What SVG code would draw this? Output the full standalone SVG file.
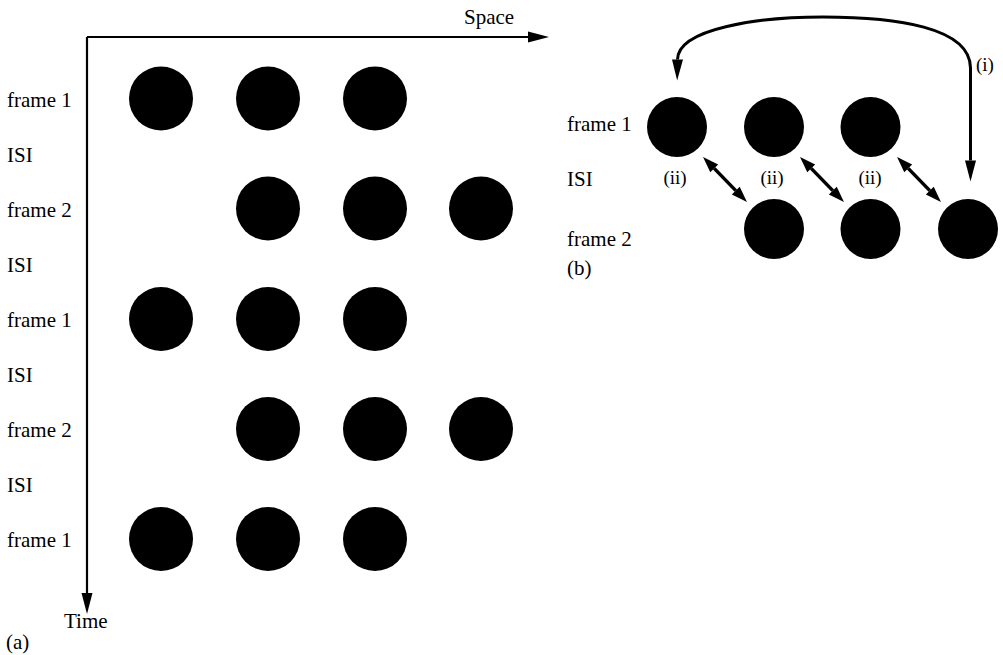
<svg xmlns="http://www.w3.org/2000/svg" width="1003" height="655" viewBox="0 0 1003 655">
<style>
  text { font-family: 'Liberation Serif', 'Times New Roman', Times, 'DejaVu Serif', serif; font-size: 21px; fill: #000; }
  .sm { font-size: 19px; }
  .dot { fill: #000; }
  .ln { fill: none; stroke: #000; }
</style>
<defs>
  <marker id="ahBig" markerUnits="userSpaceOnUse" markerWidth="22" markerHeight="12" refX="0" refY="6" orient="auto-start-reverse" overflow="visible">
    <path d="M0,0.5 L21,6 L0,11.5 z" fill="#000"/>
  </marker>
  <marker id="ahSmall" markerUnits="userSpaceOnUse" markerWidth="16" markerHeight="11" refX="0" refY="5.5" orient="auto-start-reverse" overflow="visible">
    <path d="M0,0 L16,5.5 L0,11 z" fill="#000"/>
  </marker>
</defs>
<rect width="1003" height="655" fill="#fff"/>

<g id="connectors">
  <path id="axis-space" class="ln" stroke-width="2.2" d="M87,37 L528,37" marker-end="url(#ahBig)"/>
  <path id="axis-time" class="ln" stroke-width="2.2" d="M87,37 L87,593" marker-end="url(#ahBig)"/>
  <path id="arc-i" class="ln" stroke-width="3" d="M677.5,59.5 C678,28 760,17 823,17 C895,17 970.5,27 970.5,68 L970.5,160.5" marker-start="url(#ahBig)" marker-end="url(#ahBig)"/>
  <path id="ii-1" class="ln" stroke-width="3.5" d="M714.2,168.4 L735.8,190.6" marker-start="url(#ahSmall)" marker-end="url(#ahSmall)"/>
  <path id="ii-2" class="ln" stroke-width="3.5" d="M811.2,168.4 L832.8,190.6" marker-start="url(#ahSmall)" marker-end="url(#ahSmall)"/>
  <path id="ii-3" class="ln" stroke-width="3.5" d="M908.2,168.4 L929.8,190.6" marker-start="url(#ahSmall)" marker-end="url(#ahSmall)"/>
</g>

<g id="panel-a-labels">
  <text x="464" y="24">Space</text>
  <text x="64" y="628">Time</text>
  <text x="6" y="649">(a)</text>
  <text x="7" y="106.5">frame 1</text>
  <text x="7" y="161.5">ISI</text>
  <text x="7" y="216.5">frame 2</text>
  <text x="7" y="271.5">ISI</text>
  <text x="7" y="327">frame 1</text>
  <text x="7" y="382">ISI</text>
  <text x="7" y="437">frame 2</text>
  <text x="7" y="492">ISI</text>
  <text x="7" y="547">frame 1</text>
</g>

<g id="a-row1-frame1">
  <circle class="dot" cx="161" cy="98.5" r="32"/>
  <circle class="dot" cx="268" cy="98.5" r="32"/>
  <circle class="dot" cx="375" cy="98.5" r="32"/>
</g>
<g id="a-row2-frame2">
  <circle class="dot" cx="268" cy="208.5" r="32"/>
  <circle class="dot" cx="375" cy="208.5" r="32"/>
  <circle class="dot" cx="481" cy="208.5" r="32"/>
</g>
<g id="a-row3-frame1">
  <circle class="dot" cx="161" cy="319" r="32"/>
  <circle class="dot" cx="268" cy="319" r="32"/>
  <circle class="dot" cx="375" cy="319" r="32"/>
</g>
<g id="a-row4-frame2">
  <circle class="dot" cx="268" cy="429" r="32"/>
  <circle class="dot" cx="375" cy="429" r="32"/>
  <circle class="dot" cx="481" cy="429" r="32"/>
</g>
<g id="a-row5-frame1">
  <circle class="dot" cx="161" cy="539" r="32"/>
  <circle class="dot" cx="268" cy="539" r="32"/>
  <circle class="dot" cx="375" cy="539" r="32"/>
</g>

<g id="panel-b-labels">
  <text x="567" y="131">frame 1</text>
  <text x="567" y="185.5">ISI</text>
  <text x="567" y="245.5">frame 2</text>
  <text x="567" y="275">(b)</text>
  <text class="sm" x="976" y="71">(i)</text>
  <text class="sm" x="675" y="184" text-anchor="middle">(ii)</text>
  <text class="sm" x="772" y="184" text-anchor="middle">(ii)</text>
  <text class="sm" x="870" y="184" text-anchor="middle">(ii)</text>
</g>

<g id="b-frame1">
  <circle class="dot" cx="677" cy="127" r="30"/>
  <circle class="dot" cx="774" cy="127" r="30"/>
  <circle class="dot" cx="870.5" cy="127" r="30"/>
</g>
<g id="b-frame2">
  <circle class="dot" cx="774" cy="229" r="30"/>
  <circle class="dot" cx="870.5" cy="229" r="30"/>
  <circle class="dot" cx="968" cy="229" r="30"/>
</g>
</svg>
